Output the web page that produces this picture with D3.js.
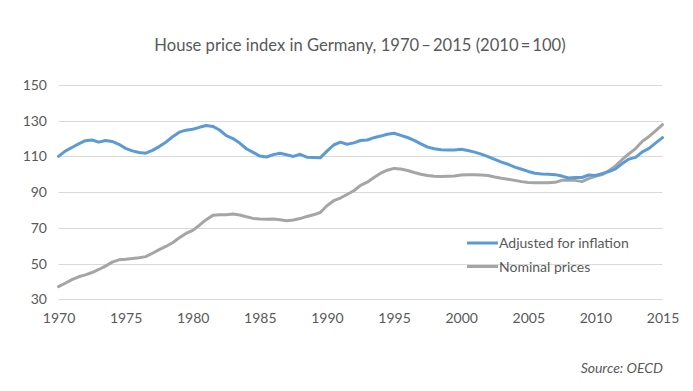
<!DOCTYPE html>
<html>
<head>
<meta charset="utf-8">
<script src="https://cdn.jsdelivr.net/npm/d3@7"></script>
<style>
  html, body { margin: 0; padding: 0; background: #fff; }
  svg { display: block; }
  text { font-family: "Lato", "Open Sans", sans-serif; fill: #595959; }
</style>
</head>
<body>
<svg id="chart" width="693" height="391"></svg>
<script>
const title = "House price index in Germany, 1970\u2009\u2013\u20092015 (2010\u2009=\u2009100)";
const source = "Source: OECD";
const seriesNames = ["Adjusted for inflation", "Nominal prices"];
const yTicks = [30, 50, 70, 90, 110, 130, 150];
const xTicks = [1970, 1975, 1980, 1985, 1990, 1995, 2000, 2005, 2010, 2015];

const periods = [
  1970.0,1970.5,1971.0,1971.5,1972.0,1972.5,1973.0,1973.5,1974.0,1974.5,
  1975.0,1975.5,1976.0,1976.5,1977.0,1977.5,1978.0,1978.5,1979.0,1979.5,
  1980.0,1980.5,1981.0,1981.5,1982.0,1982.5,1983.0,1983.5,1984.0,1984.5,
  1985.0,1985.5,1986.0,1986.5,1987.0,1987.5,1988.0,1988.5,1989.0,1989.5,
  1990.0,1990.5,1991.0,1991.5,1992.0,1992.5,1993.0,1993.5,1994.0,1994.5,
  1995.0,1995.5,1996.0,1996.5,1997.0,1997.5,1998.0,1998.5,1999.0,1999.5,
  2000.0,2000.5,2001.0,2001.5,2002.0,2002.5,2003.0,2003.5,2004.0,2004.5,
  2005.0,2005.5,2006.0,2006.5,2007.0,2007.5,2008.0,2008.5,2009.0,2009.5,
  2010.0,2010.5,2011.0,2011.5,2012.0,2012.5,2013.0,2013.5,2014.0,2014.5,
  2015.0
];

const adjusted = [
  110,113,115,117,118.8,119.2,118,118.9,118.4,116.8,
  114.5,113.1,112.2,111.8,113.4,115.5,118,121,123.6,124.7,
  125.2,126.3,127.3,126.8,124.8,121.6,120,117.5,114.3,112.3,
  110.2,109.7,111,111.8,110.9,110,111.2,109.6,109.4,109.2,
  113,116.4,118,116.8,117.6,118.9,119.2,120.5,121.4,122.4,
  123,121.8,120.6,119,117,115.2,114.3,113.7,113.6,113.6,
  114,113.3,112.4,111.3,109.9,108.3,106.8,105.6,104,102.8,
  101.6,100.6,100.2,100,99.8,99,97.9,98.2,98.2,99.6,
  99.3,100.4,101.5,103,106,108.5,109.5,112.6,114.5,117.6,
  120.5
];

const nominal = [
  37.1,39,41,42.6,43.7,45,46.7,48.6,50.8,52.1,
  52.4,52.8,53.3,53.9,55.8,57.8,59.6,61.7,64.5,66.9,
  68.6,71.5,74.6,77,77.3,77.4,77.8,77.2,76.2,75.3,
  74.9,74.8,74.9,74.5,74,74.4,75.2,76.4,77.3,78.6,
  82.4,85.2,86.7,88.7,90.8,93.8,95.6,98.2,100.6,102.3,
  103.3,103,102.1,101,100,99.3,98.9,98.7,98.9,99.1,
  99.6,99.8,99.7,99.6,99.3,98.5,97.8,97.2,96.6,95.9,
  95.4,95.3,95.3,95.3,95.5,96.6,96.8,96.6,95.9,97.6,
  98.9,99.8,102,104.7,108.3,111.5,114.4,118.5,121.2,124.5,
  127.8
];

const colors = ["#5B9BD5", "#A5A5A5"];

const svg = d3.select("#chart");
const x = d3.scaleLinear().domain([1970, 2015]).range([58.5, 662.5]);
const y = d3.scaleLinear().domain([30, 150]).range([299.3, 85]);

// Title
svg.append("text")
  .attr("x", 360).attr("y", 51)
  .attr("text-anchor", "middle")
  .style("font-size", "16.6px")
  .text(title);

// Gridlines
svg.append("g").selectAll("line").data(yTicks).join("line")
  .attr("x1", x(1970)).attr("x2", x(2015))
  .attr("y1", d => Math.round(y(d)) + 0.5).attr("y2", d => Math.round(y(d)) + 0.5)
  .attr("stroke", "#d9d9d9").attr("stroke-width", 1);

// Y axis labels
const yAxis = d3.axisLeft(y).tickValues(yTicks).tickSize(0).tickPadding(0);
const gy = svg.append("g").attr("transform", "translate(47,0)").call(yAxis);
gy.select(".domain").remove();
gy.selectAll("text").style("font-size", "14px").style("font-family", "Lato, 'Open Sans', sans-serif").attr("fill", "#595959");

// X axis labels
const xAxis = d3.axisBottom(x).tickValues(xTicks).tickFormat(d3.format("d")).tickSize(0).tickPadding(0);
const gx = svg.append("g").attr("transform", "translate(0,313)").call(xAxis);
gx.select(".domain").remove();
gx.selectAll("text").style("font-size", "14px").style("font-family", "Lato, 'Open Sans', sans-serif").attr("fill", "#595959");

// Lines
const line = d3.line().x((d, i) => x(periods[i])).y(d => y(d));
[nominal, adjusted].forEach((s, k) => {
  svg.append("path")
    .datum(s)
    .attr("d", line)
    .attr("fill", "none")
    .attr("stroke", k === 0 ? colors[1] : colors[0])
    .attr("stroke-width", 3)
    .attr("stroke-linejoin", "round")
    .attr("stroke-linecap", "round");
});

// Legend
const legend = svg.append("g");
seriesNames.forEach((name, i) => {
  const ly = 243 + i * 23.5;
  legend.append("line")
    .attr("x1", 467).attr("x2", 498)
    .attr("y1", ly).attr("y2", ly)
    .attr("stroke", colors[i]).attr("stroke-width", 3);
  legend.append("text")
    .attr("x", 499).attr("y", ly + 5)
    .style("font-size", "14px")
    .text(name);
});

// Source
svg.append("text")
  .attr("x", 663).attr("y", 373)
  .attr("text-anchor", "end")
  .style("font-size", "14px")
  .style("font-style", "italic")
  .text(source);
</script>
</body>
</html>
